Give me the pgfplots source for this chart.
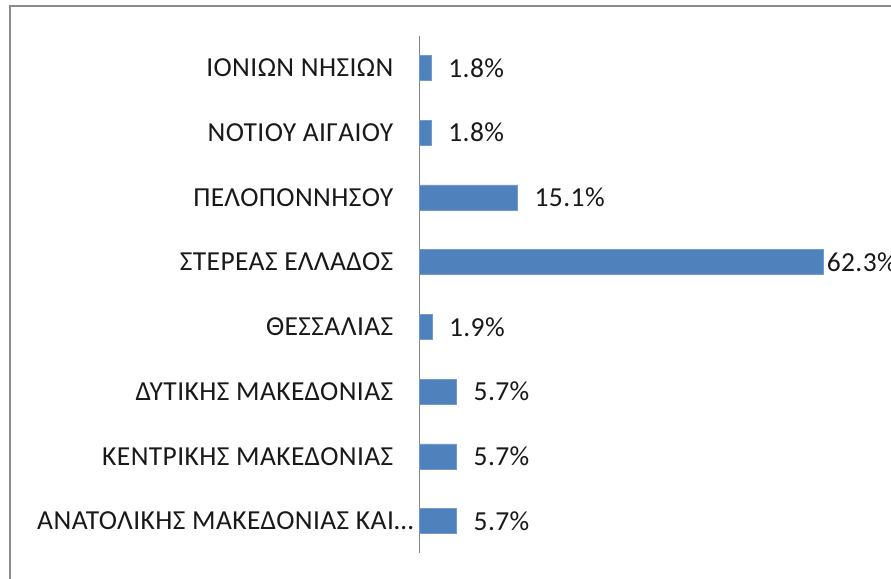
\documentclass[border=0pt]{standalone}
\usepackage{pgfplots}
\pgfplotsset{compat=1.18}
\usepackage{fontspec}
\setmainfont[LetterSpace=1.5]{Carlito}
\definecolor{barblue}{HTML}{4F81BD}
\definecolor{axgray}{HTML}{868686}
\definecolor{framegray}{HTML}{8C8C8C}
\begin{document}
\begin{tikzpicture}
\path[use as bounding box] (0,0) rectangle (891bp,579bp);
\draw[framegray, line width=2bp] (10bp,0) -- (10bp,573bp) -- (892bp,573bp);
\begin{axis}[
  at={(419.5bp,25.6bp)}, anchor=south west,
  scale only axis, width=454bp, height=517.8bp,
  xmin=0, xmax=70, ymin=-0.5, ymax=7.5,
  xbar, bar width=25bp, bar shift=0pt,
  axis x line=none, axis y line*=left,
  y axis line style={axgray, line width=1bp},
  ytick={0,...,7}, major tick length=0pt,
  yticklabels={ΑΝΑΤΟΛΙΚΗΣ ΜΑΚΕΔΟΝΙΑΣ ΚΑΙ…\hspace*{-20bp}, ΚΕΝΤΡΙΚΗΣ ΜΑΚΕΔΟΝΙΑΣ, ΔΥΤΙΚΗΣ ΜΑΚΕΔΟΝΙΑΣ, ΘΕΣΣΑΛΙΑΣ, ΣΤΕΡΕΑΣ ΕΛΛΑΔΟΣ, ΠΕΛΟΠΟΝΝΗΣΟΥ, ΝΟΤΙΟΥ ΑΙΓΑΙΟΥ, ΙΟΝΙΩΝ ΝΗΣΙΩΝ},
  yticklabel style={font=\fontsize{27.5bp}{33bp}\selectfont, inner sep=0pt, xshift=-26bp, text=black!90},
  point meta=explicit symbolic,
  nodes near coords,
  nodes near coords style={font=\fontsize{27.5bp}{33bp}\selectfont, inner sep=0pt, anchor=west, text=black!90},
  clip=false,
]
\addplot[fill=barblue, draw=barblue!80!white, nodes near coords style={xshift=17bp}] coordinates {
  (5.7,0) [5.7\%]
  (5.7,1) [5.7\%]
  (5.7,2) [5.7\%]
  (1.9,3) [1.9\%]
  (15.1,5) [15.1\%]
  (1.8,6) [1.8\%]
  (1.8,7) [1.8\%]
};
\addplot[fill=barblue, draw=barblue!80!white, nodes near coords style={xshift=3bp}] coordinates {
  (62.3,4) [62.3\%]
};
\end{axis}
\end{tikzpicture}
\end{document}
